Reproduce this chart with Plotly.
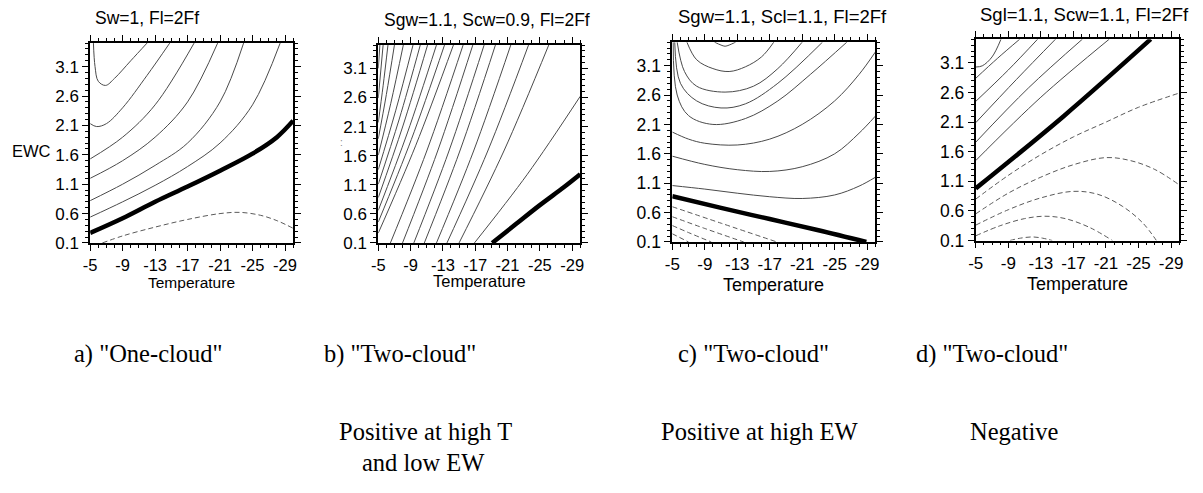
import plotly.graph_objects as go

W, H = 1203, 493

# ---------------- shared axis values ----------------
T_RANGE = [-5, -30]
EWC_RANGE = [0.1, 3.5]
X_TICKS = [-5, -9, -13, -17, -21, -25, -29]
X_TICK_TEXT = ["-5", "-9", "-13", "-17", "-21", "-25", "-29"]
Y_TICKS = [0.1, 0.6, 1.1, 1.6, 2.1, 2.6, 3.1]
Y_TICK_TEXT = ["0.1", "0.6", "1.1", "1.6", "2.1", "2.6", "3.1"]

TITLES = ["Sw=1, Fl=2Ff", "Sgw=1.1, Scw=0.9, Fl=2Ff",
          "Sgw=1.1, Scl=1.1, Fl=2Ff", "Sgl=1.1, Scw=1.1, Fl=2Ff"]
CAPTIONS = ['a) "One-cloud"', 'b) "Two-cloud"', 'c) "Two-cloud"', 'd) "Two-cloud"']
NOTES_1 = ["", "Positive at high T", "Positive at high EW", "Negative"]
NOTES_2 = ["", "and low EW", "", ""]

# ---------------- panel a: contour lines (T, EWC) ----------------
A_KIND = ["thick", "dash", "solid", "solid", "solid", "solid", "solid", "solid"]
A_T = [
    [-5, -9, -13, -17, -21, -25, -28, -30],
    [-6.5, -9, -13, -17, -21, -23.5, -26, -28, -30],
    [-5, -9, -13, -17, -21, -25, -28.4],
    [-5, -9, -13, -17, -21, -23.9],
    [-5, -9, -13, -17, -20.7],
    [-5, -9, -13, -17.8],
    [-5, -5.8, -7, -9, -12, -14.8],
    [-5.4, -5.6, -6, -6.9, -8, -10, -12],
]
A_E = [
    [0.27, 0.52, 0.8, 1.06, 1.33, 1.62, 1.9, 2.18],
    [0.1, 0.22, 0.37, 0.5, 0.6, 0.62, 0.57, 0.48, 0.35],
    [0.54, 0.8, 1.08, 1.4, 1.8, 2.45, 3.5],
    [0.82, 1.1, 1.42, 1.8, 2.5, 3.5],
    [1.2, 1.5, 1.9, 2.5, 3.5],
    [1.53, 1.9, 2.45, 3.5],
    [2.13, 2.08, 2.13, 2.4, 2.95, 3.5],
    [3.5, 3.1, 2.85, 2.78, 2.9, 3.2, 3.5],
]

# ---------------- panel b ----------------
B_KIND = ["thick"] + ["solid"] * 19
B_T = [
    [-19.1, -22, -25, -28, -30],
    [-16.9, -23.45, -30], [-15.0, -20.55, -26.1], [-13.5, -18.55, -23.6],
    [-12.2, -16.8, -21.4], [-10.7, -15.1, -19.5], [-9.4, -13.75, -18.1],
    [-8.0, -12.35, -16.7], [-6.5, -11.0, -15.5],
    [-5, -9.65, -14.3], [-5, -9.1, -13.2], [-5, -8.6, -12.2], [-5, -8.05, -11.1],
    [-5, -7.6, -10.2], [-5, -7.15, -9.3], [-5, -6.55, -8.1], [-5, -6.0, -7.0],
    [-5, -5.6, -6.2], [-5, -5.6], [-5, -5.2],
]
B_E = [
    [0.1, 0.42, 0.75, 1.06, 1.28],
    [0.1, 1.28, 2.62], [0.1, 1.68, 3.5], [0.1, 1.68, 3.5],
    [0.1, 1.68, 3.5], [0.1, 1.68, 3.5], [0.1, 1.68, 3.5],
    [0.1, 1.68, 3.5], [0.1, 1.68, 3.5],
    [0.27, 1.78, 3.5], [0.46, 1.88, 3.5], [0.66, 1.99, 3.5], [0.88, 2.11, 3.5],
    [1.11, 2.23, 3.5], [1.36, 2.37, 3.5], [1.61, 2.5, 3.5], [1.89, 2.65, 3.5],
    [2.17, 2.8, 3.5], [2.59, 3.5], [3.1, 3.5],
]

# ---------------- panel c ----------------
C_KIND = ["thick", "dash", "dash", "dash", "dash",
          "solid", "solid", "solid", "solid", "solid", "solid", "solid", "solid"]
C_T = [
    [-5, -11, -17, -23, -28.9],
    [-5, -11, -17.9], [-5, -9, -13.8], [-5, -7, -9.8], [-5, -7],
    [-5, -9, -13, -17, -21, -25, -28, -30],
    [-5, -9, -13, -17, -21, -25, -28, -30],
    [-5, -7, -9, -13, -17, -21, -25, -28, -30],
    [-5.1, -5.6, -7, -10, -14, -18, -22, -26.5],
    [-5.3, -6, -8, -11, -14, -18, -23.5],
    [-5.6, -6.5, -8, -11.5, -15, -18, -21],
    [-6.8, -8, -10, -12, -14, -16, -17.5],
    [-10.2, -11, -11.5, -12, -12.8],
]
C_E = [
    [0.88, 0.68, 0.49, 0.3, 0.1],
    [0.7, 0.42, 0.1], [0.53, 0.33, 0.1], [0.38, 0.26, 0.1], [0.24, 0.1],
    [1.06, 1.0, 0.93, 0.87, 0.84, 0.9, 1.05, 1.2],
    [1.56, 1.42, 1.33, 1.3, 1.38, 1.6, 1.95, 2.24],
    [1.97, 1.85, 1.78, 1.75, 1.85, 2.1, 2.5, 2.95, 3.33],
    [3.5, 2.6, 2.25, 2.1, 2.2, 2.5, 2.95, 3.5],
    [3.5, 2.8, 2.5, 2.38, 2.45, 2.8, 3.5],
    [3.5, 3.0, 2.75, 2.65, 2.75, 3.05, 3.5],
    [3.5, 3.2, 3.05, 3.0, 3.08, 3.25, 3.5],
    [3.5, 3.45, 3.43, 3.45, 3.5],
]

# ---------------- panel d ----------------
D_KIND = ["thick", "solid", "solid", "solid", "solid", "solid", "solid",
          "dash", "dash", "dash", "dash", "dash"]
D_T = [
    [-5, -15.8, -26.5],
    [-5, -13, -21.4], [-5, -11.5, -18.1], [-5, -10, -14.8],
    [-5, -9, -12.6], [-5, -7.7, -10.4], [-5, -5.8, -7, -8.1],
    [-5, -9, -13, -17, -21, -25, -30],
    [-5, -9, -13, -17, -21, -24, -27, -30],
    [-5, -9, -13, -17, -20, -23, -25.5, -27.2],
    [-5, -8, -11, -13.5, -16, -19, -21.8],
    [-9.2, -10.5, -12, -13.2, -14.4],
]
D_E = [
    [0.98, 2.2, 3.5],
    [1.45, 2.52, 3.5], [1.76, 2.68, 3.5], [2.09, 2.82, 3.5],
    [2.45, 2.98, 3.5], [2.84, 3.18, 3.5], [3.03, 3.05, 3.2, 3.5],
    [0.8, 1.2, 1.55, 1.85, 2.1, 2.35, 2.59],
    [0.55, 0.9, 1.17, 1.38, 1.5, 1.45, 1.3, 1.04],
    [0.36, 0.62, 0.82, 0.93, 0.88, 0.68, 0.4, 0.1],
    [0.18, 0.35, 0.47, 0.51, 0.47, 0.32, 0.1],
    [0.1, 0.14, 0.16, 0.14, 0.1],
]

PANELS = [(A_T, A_E, A_KIND), (B_T, B_E, B_KIND), (C_T, C_E, C_KIND), (D_T, D_E, D_KIND)]

# ---------------- layout geometry (pixels) ----------------
BOXES = [(83, 288, 44, 248), (374, 578, 46, 248), (671, 876, 43, 247), (977.5, 1183, 40, 245.5)]
TITLE_Y = [18, 20, 17, 15]
TITLE_SIZE = [17.5, 17.5, 18.5, 18.5]
TITLE_ANCHOR = [("left", 86), ("left", 378), ("left", 675), ("right", 1195)]
TICK_SIZE_X = [16.5, 16.5, 17, 17]
TICK_SIZE_Y = [17, 17, 17.5, 17.5]
XLAB_SIZE = [15.5, 16.5, 18, 18]
XLAB_Y = [288, 287, 290.5, 289.5]
CAP_X = [142, 396, 753, 994]
NOTE1_X = [0, 422, 760, 1017]
NOTE2_X = [0, 420, 0, 0]

STYLE = {
    "thick": dict(color="black", width=4.5),
    "solid": dict(color="#4a4a4a", width=1),
    "dash": dict(color="#5a5a5a", width=1, dash="5px,3px"),
}

fig = go.Figure()
SANS = "Liberation Sans, Arial, sans-serif"
SERIF = "Liberation Serif, Times New Roman, serif"

for i, (Ts, Es, kinds) in enumerate(PANELS):
    n = i + 1
    for t, e, k in zip(Ts, Es, kinds):
        fig.add_trace(go.Scatter(
            x=t, y=e, mode="lines",
            line=dict(shape="spline", smoothing=1.0, **STYLE[k]),
            xaxis=f"x{n}", yaxis=f"y{n}", showlegend=False, hoverinfo="skip"))

    x0, x1, y0, y1 = BOXES[i]
    common = dict(ticks="outside", ticklen=6, tickwidth=1.3, tickcolor="black",
                  showline=True, linecolor="black", linewidth=1.8, mirror="ticks",
                  showgrid=False, zeroline=False)
    fig.update_layout(**{
        f"xaxis{n}": dict(domain=[x0 / W, x1 / W], range=T_RANGE, anchor=f"y{n}",
                          tickmode="array", tickvals=X_TICKS, ticktext=X_TICK_TEXT,
                          tickfont=dict(family=SANS, size=TICK_SIZE_X[i], color="black"),
                          minor=dict(ticks="outside", ticklen=3, tickwidth=1, tickcolor="black",
                                     tickmode="linear", tick0=-5, dtick=1, showgrid=False),
                          **common),
        f"yaxis{n}": dict(domain=[1 - y1 / H, 1 - y0 / H], range=EWC_RANGE, anchor=f"x{n}",
                          tickmode="array", tickvals=Y_TICKS, ticktext=Y_TICK_TEXT,
                          tickfont=dict(family=SANS, size=TICK_SIZE_Y[i], color="black"),
                          minor=dict(ticks="outside", ticklen=3, tickwidth=1, tickcolor="black",
                                     tickmode="linear", tick0=0.1, dtick=0.1, showgrid=False),
                          **common),
    })

    anc, tx = TITLE_ANCHOR[i]
    fig.add_annotation(x=tx / W, y=1 - TITLE_Y[i] / H, xref="paper", yref="paper",
                       text=TITLES[i], showarrow=False, xanchor=anc, yanchor="middle",
                       font=dict(family=SANS, size=TITLE_SIZE[i], color="black"))
    fig.add_annotation(x=(x0 + x1) / 2 / W, y=1 - XLAB_Y[i] / H, xref="paper", yref="paper",
                       text="Temperature", showarrow=False, xanchor="center", yanchor="middle",
                       font=dict(family=SANS, size=XLAB_SIZE[i], color="black"))
    fig.add_annotation(x=CAP_X[i] / W, y=1 - 361 / H, xref="paper", yref="paper",
                       text=CAPTIONS[i], showarrow=False, xanchor="center", yanchor="middle",
                       font=dict(family=SERIF, size=24.5, color="black"))
    if NOTES_1[i]:
        fig.add_annotation(x=NOTE1_X[i] / W, y=1 - 440 / H, xref="paper", yref="paper",
                           text=NOTES_1[i], showarrow=False, xanchor="center", yanchor="middle",
                           font=dict(family=SERIF, size=24.5, color="black"))
    if NOTES_2[i]:
        fig.add_annotation(x=NOTE2_X[i] / W, y=1 - 472 / H, xref="paper", yref="paper",
                           text=NOTES_2[i], showarrow=False, xanchor="center", yanchor="middle",
                           font=dict(family=SERIF, size=24.5, color="black"))

fig.add_annotation(x=24 / W, y=1 - 154 / H, xref="paper", yref="paper", text="EWC",
                   showarrow=False, xanchor="center", yanchor="middle",
                   font=dict(family=SANS, size=16.5, color="black"))
# faint remnant of a cropped axis label left of panel b
fig.add_annotation(x=337 / W, y=1 - 145 / H, xref="paper", yref="paper", text=":",
                   showarrow=False, xanchor="center", yanchor="middle",
                   font=dict(family=SANS, size=10, color="#888888"))

fig.update_layout(width=W, height=H, margin=dict(l=0, r=0, t=0, b=0),
                  paper_bgcolor="white", plot_bgcolor="white", showlegend=False)

fig.write_html("out.html", config={"displayModeBar": False},
               post_script="document.body.style.margin='0px';document.body.style.padding='0px';"
                           "document.documentElement.style.overflow='hidden';")
